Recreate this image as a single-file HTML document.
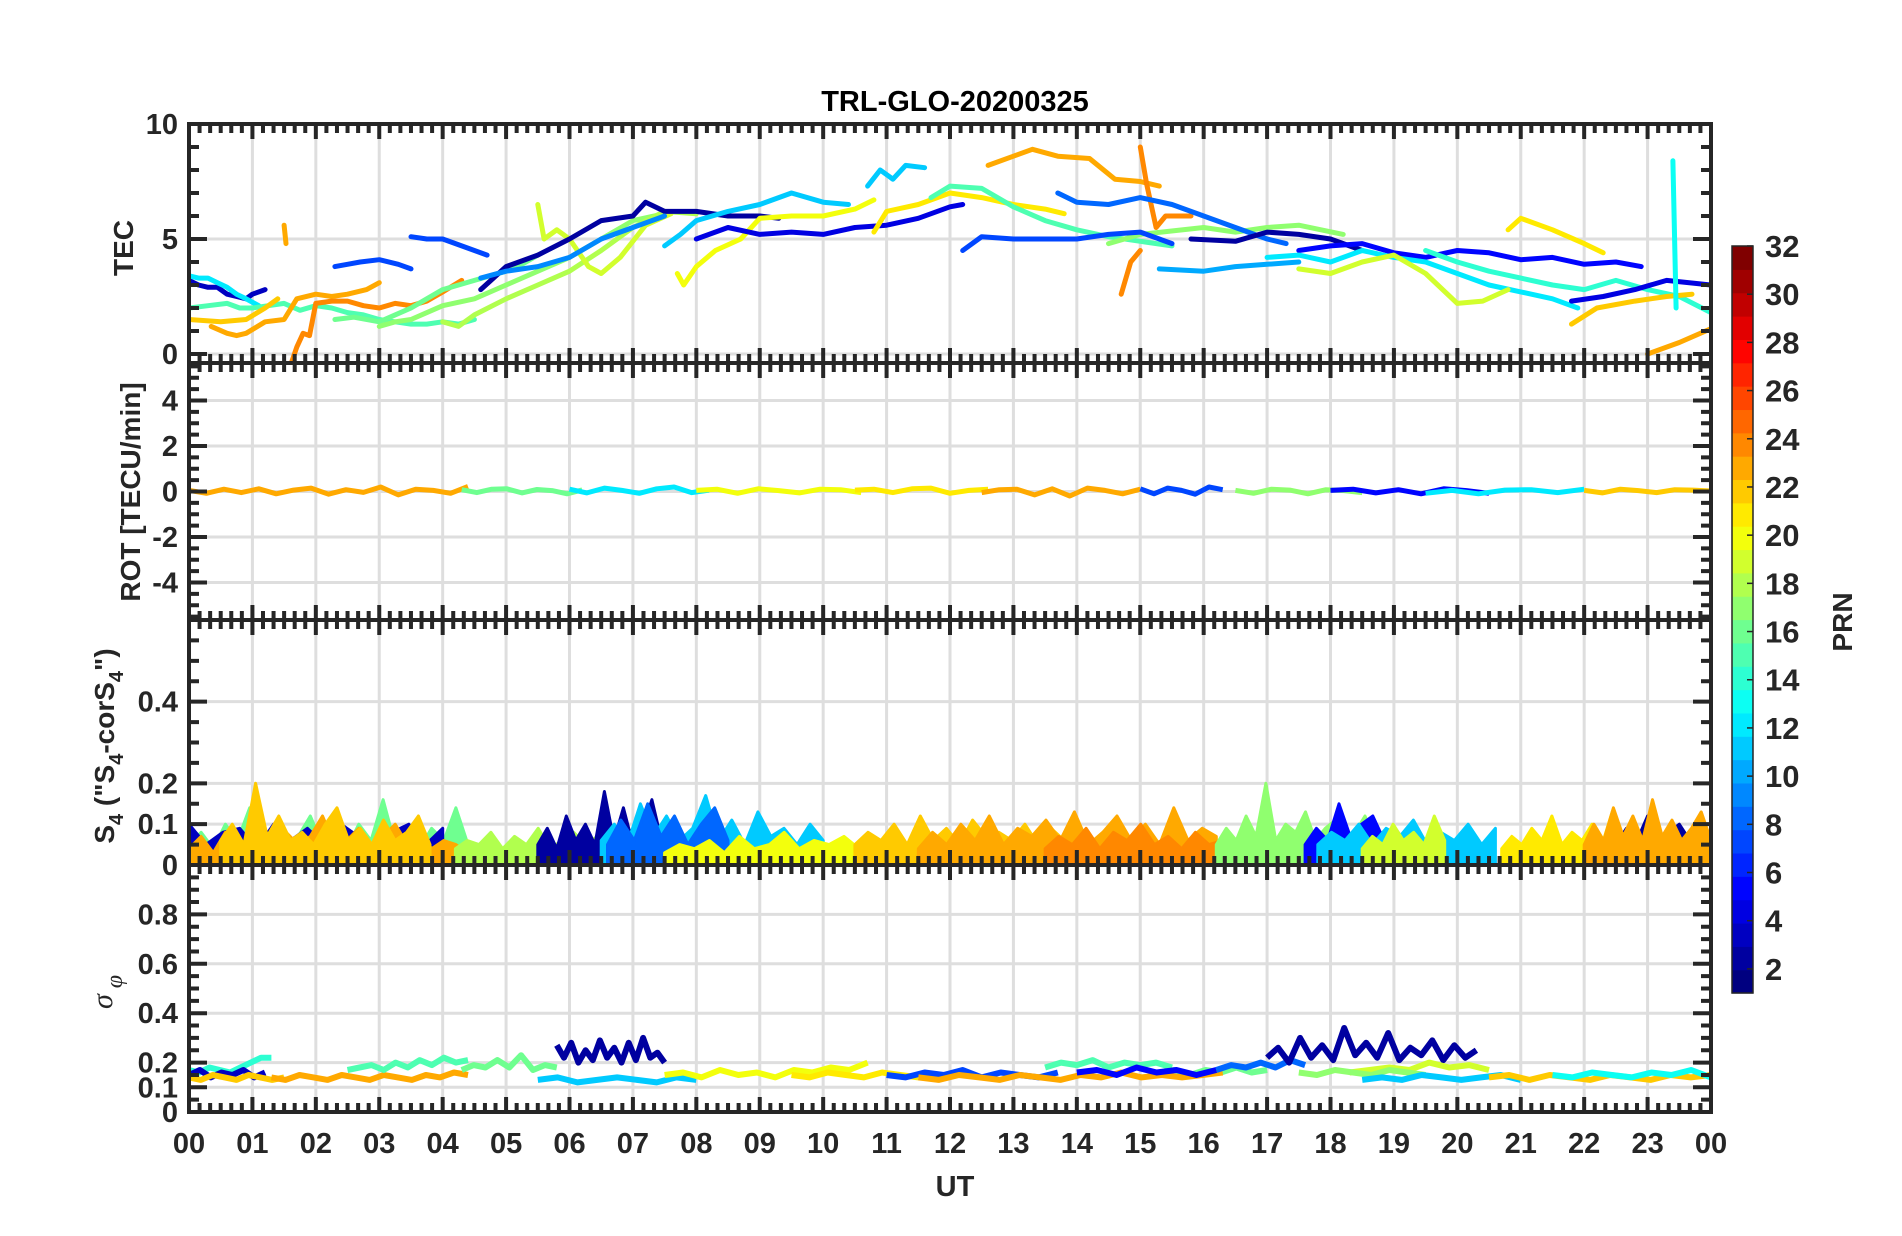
<!DOCTYPE html>
<html><head><meta charset="utf-8"><title>TRL-GLO-20200325</title>
<style>
html,body{margin:0;padding:0;background:#fff;}
svg{display:block;font-family:"Liberation Sans Narrow","Liberation Sans",sans-serif;}
</style></head>
<body>
<svg id="chart" width="1902" height="1236" viewBox="0 0 1902 1236" xmlns="http://www.w3.org/2000/svg">
<rect x="0" y="0" width="1902" height="1236" fill="#fff"/>
<g id="grid"></g>
<g id="series"></g>
<g id="axes"></g>
<text x="955" y="111" text-anchor="middle" font-size="29" font-weight="bold" fill="#000">TRL-GLO-20200325</text>
<text x="955" y="1196" text-anchor="middle" font-size="29" font-weight="bold" fill="#262626">UT</text>
<text transform="translate(133,248) rotate(-90)" text-anchor="middle" font-size="28" font-weight="bold" fill="#262626" font-family="Liberation Sans, sans-serif">TEC</text>
<text transform="translate(140,492) rotate(-90)" text-anchor="middle" font-size="28" font-weight="bold" fill="#262626" font-family="Liberation Sans, sans-serif">ROT [TECU/min]</text>
<text transform="translate(114,746) rotate(-90)" text-anchor="middle" font-size="28" font-weight="bold" fill="#262626" font-family="Liberation Sans, sans-serif">S<tspan font-size="20" dy="9">4</tspan><tspan dy="-9"> ("S</tspan><tspan font-size="20" dy="9">4</tspan><tspan dy="-9">-corS</tspan><tspan font-size="20" dy="9">4</tspan><tspan dy="-9">")</tspan></text>
<text transform="translate(112,992) rotate(-90)" text-anchor="middle" font-size="30" font-style="italic" fill="#262626" font-family="Liberation Serif, serif">σ<tspan font-size="24" dy="10"> φ</tspan></text>
<g id="cbar"></g>
<text transform="translate(1852,622) rotate(-90)" text-anchor="middle" font-size="28" font-weight="bold" fill="#262626" font-family="Liberation Sans, sans-serif">PRN</text>
</svg>
<script>
// ---------- DATA ----------
const hourTicks = ["00","01","02","03","04","05","06","07","08","09","10","11","12","13","14","15","16","17","18","19","20","21","22","23","00"];
const tecTicks = [0,5,10];
const rotTicks = [-4,-2,0,2,4];
const s4Ticks = [0,0.1,0.2,0.4];
const sigTicks = [0,0.1,0.2,0.4,0.6,0.8];
const cbarTicks = [2,4,6,8,10,12,14,16,18,20,22,24,26,28,30,32];

// TEC traces: PRN, then [hour, TEC] pairs
const tecPrn = [3,12,15,22,23,24,23,7,7,16,17,18,19,2,9,11,11,20,4,21,15,17,23,24,24,7,8,10,2,5,12,19,21,14,4,22,13,23];
const tecPts = [
 [[0,3.2],[0.15,3.0],[0.3,2.9],[0.45,2.9],[0.6,2.6],[0.75,2.5],[0.9,2.4],[1.0,2.6],[1.2,2.8]],
 [[0,3.4],[0.15,3.3],[0.3,3.3],[0.45,3.1],[0.6,2.9],[0.75,2.6],[0.9,2.4],[1.1,2.1]],
 [[0,2.0],[0.3,2.1],[0.6,2.2],[0.8,2.0],[1,2.0],[1.25,2.1],[1.5,2.2],[1.75,1.9],[2,2.1],[2.25,2.0],[2.5,1.8],[2.75,1.7],[3,1.5],[3.25,1.4],[3.5,1.3],[3.75,1.3],[4,1.4],[4.25,1.3],[4.5,1.5]],
 [[0,1.5],[0.5,1.4],[0.9,1.5],[1.2,2.0],[1.4,2.4]],
 [[0.35,1.2],[0.6,0.9],[0.75,0.8],[0.9,0.9],[1.2,1.4],[1.5,1.5],[1.7,2.4],[2.0,2.6],[2.25,2.5],[2.5,2.6],[2.8,2.8],[3.0,3.1]],
 [[1.6,-0.5],[1.7,0.3],[1.8,0.9],[1.9,0.8],[2.0,2.2],[2.25,2.3],[2.5,2.3],[2.75,2.1],[3.0,2.0],[3.25,2.2],[3.5,2.1],[3.75,2.3],[4.0,2.7],[4.3,3.2]],
 [[1.5,5.6],[1.53,4.8]],
 [[2.3,3.8],[2.5,3.9],[2.7,4.0],[3.0,4.1],[3.3,3.9],[3.5,3.7]],
 [[3.5,5.1],[3.75,5.0],[4.0,5.0],[4.3,4.7],[4.7,4.3]],
 [[2.3,1.5],[2.6,1.6],[3,1.4],[3.25,1.7],[3.5,2.0],[3.75,2.4],[4.0,2.8],[4.5,3.2],[5.0,3.6],[5.25,3.9],[5.5,4.3]],
 [[3,1.2],[3.25,1.4],[3.5,1.5],[4,2.1],[4.5,2.4],[5,3.0],[5.5,3.6],[6,4.2],[6.5,5.0],[7,5.8],[7.5,6.1]],
 [[4,1.4],[4.25,1.2],[4.5,1.7],[5,2.4],[5.5,3.0],[6,3.6],[6.5,4.5],[7,5.5],[7.5,6.2],[8,6.1]],
 [[5.5,6.5],[5.6,5.0],[5.8,5.4],[6.0,5.0],[6.3,3.8],[6.5,3.5],[6.8,4.2],[7.2,5.6],[7.6,6.1]],
 [[4.6,2.8],[5,3.8],[5.5,4.3],[6,5.0],[6.5,5.8],[7,6.0],[7.2,6.6],[7.5,6.2],[8.0,6.2],[8.5,6.0],[9,6.0],[9.3,5.9]],
 [[4.6,3.3],[5,3.6],[5.5,3.8],[6,4.2],[6.5,5.0],[7,5.5],[7.5,6.0]],
 [[7.5,4.7],[7.75,5.2],[8,5.8],[8.5,6.2],[9,6.5],[9.5,7.0],[10,6.6],[10.4,6.5]],
 [[10.7,7.3],[10.9,8.0],[11.1,7.6],[11.3,8.2],[11.6,8.1]],
 [[7.7,3.5],[7.8,3.0],[8,3.8],[8.3,4.5],[8.7,5.0],[9,5.9],[9.5,6.0],[10,6.0],[10.5,6.3],[10.8,6.7]],
 [[8,5.0],[8.5,5.5],[9,5.2],[9.5,5.3],[10,5.2],[10.5,5.5],[11,5.6],[11.5,5.9],[12,6.4],[12.2,6.5]],
 [[10.8,5.3],[11,6.2],[11.5,6.5],[12,7.0],[12.5,6.8],[13,6.5],[13.5,6.3],[13.8,6.1]],
 [[11.7,6.8],[12,7.3],[12.5,7.2],[13,6.4],[13.5,5.8],[14,5.4],[14.5,5.1],[15,4.9],[15.5,4.7]],
 [[14.5,4.8],[15,5.2],[16,5.5],[16.5,5.3],[17,5.5],[17.5,5.6],[18.2,5.2]],
 [[12.6,8.2],[13,8.6],[13.3,8.9],[13.7,8.6],[14.2,8.5],[14.6,7.6],[15,7.5],[15.3,7.3]],
 [[15,9.0],[15.1,7.4],[15.25,5.5],[15.4,6.0],[15.8,6.0]],
 [[14.7,2.6],[14.85,4.0],[15.0,4.5]],
 [[12.2,4.5],[12.5,5.1],[13,5.0],[13.5,5.0],[14,5.0],[14.5,5.2],[15,5.3],[15.5,4.8]],
 [[13.7,7.0],[14,6.6],[14.5,6.5],[15,6.8],[15.5,6.5],[16,6.0],[16.5,5.5],[17,5.0],[17.3,4.8]],
 [[15.3,3.7],[16,3.6],[16.5,3.8],[17,3.9],[17.5,4.0]],
 [[15.8,5.0],[16.5,4.9],[17,5.3],[17.5,5.2],[18,5.0],[18.5,4.5]],
 [[17.5,4.5],[18,4.7],[18.5,4.8],[19,4.4],[19.5,4.2],[20,4.5],[20.5,4.4],[21,4.1],[21.5,4.2],[22,3.9],[22.5,4.0],[22.9,3.8]],
 [[17,4.2],[17.5,4.3],[18,4.0],[18.5,4.5],[19,4.2],[19.5,4.0],[20,3.5],[20.5,3.0],[21,2.7],[21.5,2.4],[21.9,2.0]],
 [[17.5,3.7],[18,3.5],[18.5,4.0],[19,4.3],[19.5,3.5],[20,2.2],[20.4,2.3],[20.8,2.8]],
 [[20.8,5.4],[21,5.9],[21.5,5.4],[22,4.8],[22.3,4.4]],
 [[19.5,4.5],[20,4.0],[20.5,3.6],[21,3.3],[21.5,3.0],[22,2.8],[22.5,3.2],[23,2.8],[23.5,2.5],[24,1.8]],
 [[21.8,2.3],[22.3,2.5],[22.8,2.8],[23.3,3.2],[24,3.0]],
 [[21.8,1.3],[22.2,2.0],[22.8,2.3],[23.3,2.5],[23.7,2.6]],
 [[23.4,8.4],[23.45,2.0]],
 [[23.0,0.0],[23.5,0.5],[24,1.1]]
];

// ROT segments: PRN, start hour, end hour, values
const rotPrn = [23,16,12,20,21,23,7,17,5,12,22];
const rotStart = [0,4.3,6,8,10.5,12.5,15,16.5,18,19.5,22];
const rotEnd = [4.4,6.2,8.2,10.6,12.6,15,16.3,18.5,20.5,22,24];
const rotVals = [
 [0.05,-0.08,0.1,-0.05,0.12,-0.1,0.06,0.15,-0.12,0.08,-0.04,0.2,-0.15,0.1,0.05,-0.08,0.22],
 [0.08,-0.05,0.1,0.12,-0.06,0.09,0.04,-0.1,0.07],
 [0.1,-0.06,0.15,0.05,-0.08,0.12,0.2,-0.05,0.06],
 [0.05,0.1,-0.08,0.12,0.04,-0.06,0.1,0.08,-0.05],
 [0.06,0.1,-0.05,0.12,0.15,-0.08,0.05,0.1],
 [-0.05,0.08,0.1,-0.15,0.12,-0.2,0.15,0.05,-0.1,0.1],
 [0.12,-0.1,0.15,0.05,-0.12,0.2,0.08],
 [0.05,-0.08,0.1,0.06,-0.1,0.08,0.04,-0.05],
 [0.05,0.1,-0.06,0.08,-0.1,0.12,0.04,-0.08],
 [-0.08,0.05,-0.1,0.06,0.08,-0.05,0.1],
 [0.05,-0.06,0.1,0.04,-0.05,0.08,0.06,0.02]
];

// S4 segments: PRN, start, end, values
const s4Prn = [16,3,23,22,18,2,11,8,20,22,23,24,17,5,11,19,21,2,23];
const s4Start = [0,0,0,0.5,4.2,5.5,6.5,6.6,7.5,10.5,11.5,13.5,16.2,17.6,17.8,18.5,20.7,22.5,22];
const s4End = [4.4,4.0,4.4,3.8,7.0,7.6,10.0,8.5,10.8,13.8,16.2,16.3,18.7,19.2,20.6,19.8,22.6,24,24];
const s4Vals = [
 [0.05,0.08,0.04,0.1,0.06,0.14,0.05,0.09,0.04,0.07,0.12,0.05,0.08,0.04,0.1,0.06,0.16,0.05,0.07,0.04,0.09,0.06,0.14,0.05],
 [0.1,0.05,0.08,0.09,0.04,0.1,0.06,0.09,0.05,0.1,0.07,0.04,0.08,0.1,0.05,0.09],
 [0.04,0.07,0.03,0.08,0.05,0.06,0.1,0.04,0.08,0.05,0.07,0.12,0.05,0.06,0.09,0.04,0.07,0.1,0.05,0.08,0.04,0.06,0.05,0.03],
 [0.06,0.1,0.05,0.2,0.07,0.12,0.06,0.08,0.05,0.1,0.14,0.06,0.09,0.05,0.11,0.06,0.08,0.12,0.05],
 [0.04,0.06,0.05,0.08,0.04,0.07,0.05,0.09,0.04,0.06,0.08,0.05,0.07,0.06,0.09,0.04],
 [0.05,0.09,0.04,0.12,0.06,0.1,0.05,0.18,0.06,0.14,0.05,0.09,0.16,0.06,0.1],
 [0.06,0.1,0.05,0.15,0.07,0.12,0.06,0.09,0.17,0.06,0.11,0.05,0.13,0.07,0.09,0.05,0.1,0.06],
 [0.05,0.11,0.06,0.15,0.07,0.12,0.05,0.1,0.14,0.06],
 [0.03,0.05,0.04,0.06,0.03,0.07,0.04,0.05,0.08,0.04,0.06,0.05,0.07,0.04,0.06],
 [0.05,0.08,0.06,0.1,0.05,0.12,0.06,0.09,0.05,0.11,0.07,0.08,0.06,0.1,0.05,0.09,0.06],
 [0.04,0.08,0.05,0.1,0.06,0.12,0.05,0.09,0.07,0.11,0.06,0.13,0.05,0.08,0.12,0.06,0.1,0.05,0.14,0.06,0.09,0.07],
 [0.04,0.07,0.05,0.09,0.04,0.08,0.06,0.1,0.05,0.07,0.04,0.08,0.05,0.06],
 [0.05,0.09,0.06,0.12,0.07,0.2,0.06,0.1,0.08,0.13,0.06,0.09,0.11,0.06,0.08,0.12,0.06],
 [0.05,0.09,0.06,0.15,0.07,0.1,0.12,0.06,0.09,0.05],
 [0.05,0.08,0.06,0.1,0.05,0.09,0.07,0.11,0.05,0.08,0.06,0.1,0.05,0.09],
 [0.04,0.07,0.05,0.1,0.06,0.08,0.05,0.12,0.06],
 [0.04,0.07,0.05,0.09,0.06,0.12,0.05,0.08,0.06,0.1,0.05,0.13,0.06],
 [0.05,0.09,0.06,0.12,0.05,0.08,0.1,0.06,0.12,0.05],
 [0.05,0.1,0.06,0.14,0.07,0.12,0.06,0.16,0.07,0.11,0.06,0.09,0.13,0.06]
];

// Sigma-phi segments: PRN, start, end, values
const sgPrn = [14,3,22,23,15,16,2,11,20,21,7,15,16,23,5,8,2,19,17,11,22,13];
const sgStart = [0,0,0,1.3,2.5,4.3,5.8,5.5,7.5,9.5,11,13.5,15.3,11.5,14,16.2,17.0,18.3,17.5,18.5,20.5,21.5];
const sgEnd = [1.3,1.2,1.5,4.4,4.4,5.8,7.5,8,10.7,11.5,13.7,15.5,17,16.3,16.2,17.6,20.3,20.5,19.5,21,24,24];
const sgVals = [
 [0.17,0.16,0.18,0.17,0.16,0.18,0.2,0.22,0.22],
 [0.15,0.17,0.14,0.16,0.15,0.17,0.14,0.16],
 [0.14,0.13,0.15,0.14,0.13,0.15,0.14,0.13,0.14],
 [0.14,0.13,0.15,0.14,0.13,0.15,0.14,0.13,0.15,0.14,0.13,0.15,0.14,0.16,0.15],
 [0.17,0.18,0.19,0.17,0.2,0.18,0.21,0.19,0.22,0.2,0.21],
 [0.17,0.19,0.18,0.21,0.18,0.23,0.17,0.19,0.18],
 [0.27,0.22,0.28,0.2,0.25,0.21,0.29,0.22,0.26,0.2,0.28,0.21,0.3,0.22,0.24,0.2],
 [0.13,0.14,0.12,0.13,0.14,0.13,0.12,0.14,0.13],
 [0.15,0.16,0.14,0.17,0.15,0.16,0.14,0.17,0.16,0.18,0.17,0.2],
 [0.15,0.14,0.16,0.15,0.14,0.16,0.15,0.14],
 [0.15,0.14,0.16,0.15,0.17,0.14,0.16,0.15,0.14,0.16],
 [0.18,0.2,0.19,0.21,0.18,0.2,0.19,0.2,0.18],
 [0.16,0.17,0.15,0.17,0.16,0.18,0.16,0.17],
 [0.14,0.13,0.15,0.14,0.13,0.15,0.14,0.13,0.15,0.14,0.16,0.14,0.15,0.14,0.15,0.16],
 [0.16,0.17,0.15,0.18,0.16,0.17,0.15,0.17],
 [0.17,0.19,0.18,0.2,0.18,0.21,0.19],
 [0.22,0.26,0.2,0.3,0.22,0.27,0.21,0.34,0.23,0.28,0.22,0.32,0.21,0.26,0.23,0.29,0.21,0.27,0.22,0.25],
 [0.16,0.17,0.18,0.17,0.2,0.18,0.19,0.17],
 [0.16,0.15,0.17,0.16,0.15,0.17,0.16,0.15],
 [0.13,0.14,0.13,0.15,0.14,0.13,0.14,0.15,0.13],
 [0.14,0.15,0.13,0.15,0.14,0.13,0.15,0.14,0.13,0.15,0.14,0.15],
 [0.15,0.14,0.16,0.15,0.14,0.16,0.15,0.17,0.14]
];

// ---------- AXES ----------
const X0 = 189, X1 = 1711;
function xS(h){ return X0 + h*(X1-X0)/24; }
const P = {
 tec:{top:124,bot:363,min:-0.39,max:10.0},
 rot:{top:363,bot:620,min:-5.65,max:5.65},
 s4:{top:620,bot:865,min:0,max:0.6},
 sig:{top:865,bot:1112,min:0,max:1.0}
};
function yOf(p,v){ return p.bot - (v-p.min)/(p.max-p.min)*(p.bot-p.top); }

function jet(prn){
 const t = (prn-1)/31;
 const f = v => Math.max(0,Math.min(1,v));
 const r = f(1.5-Math.abs(4*t-3)), g = f(1.5-Math.abs(4*t-2)), b = f(1.5-Math.abs(4*t-1));
 return `rgb(${Math.round(r*255)},${Math.round(g*255)},${Math.round(b*255)})`;
}
const NS = "http://www.w3.org/2000/svg";
function mk(tag, attrs, parent){
 const e = document.createElementNS(NS, tag);
 for (const k in attrs) e.setAttribute(k, attrs[k]);
 parent.appendChild(e); return e;
}
const gGrid = document.getElementById('grid');
const gSer = document.getElementById('series');
const gAx = document.getElementById('axes');
const AX = "#262626";

function panel(name, p, majors, minorStep, labelFmt){
 for (let h=1; h<24; h++){
  const l = mk('line',{x1:xS(h),x2:xS(h),y1:p.top,y2:p.bot,stroke:'#dedede','stroke-width':3},gGrid);
  
  
 }
 majors.forEach(v=>{
  const y = yOf(p,v);
  const l = mk('line',{x1:X0,x2:X1,y1:y,y2:y,stroke:'#dedede','stroke-width':3},gGrid);
  
  
  const t = mk('text',{x:178,y:y+10,'text-anchor':'end','font-size':29,'font-weight':'bold',fill:AX},gAx);
  t.textContent = labelFmt(v);
  
  
 });
 let d = '';
 for (let m=0; m<=24*6; m++){
  const x = xS(m/6), L = (m%6===0)?15:9;
  d += `M${x},${p.bot}v${-L}M${x},${p.top}v${L}`;
 }
 const start = Math.ceil(p.min/minorStep-1e-9);
 for (let k=start; k*minorStep<=p.max+1e-9; k++){
  const v = k*minorStep, y = yOf(p,v);
  const isMaj = majors.some(m=>Math.abs(m-v)<1e-9);
  const L = isMaj?18:10;
  d += `M${X0},${y}h${L}M${X1},${y}h${-L}`;
 }
 const tk = mk('path',{d:d,stroke:AX,'stroke-width':4,fill:'none'},gAx);
 
 
 const box = mk('rect',{x:X0,y:p.top,width:X1-X0,height:p.bot-p.top,fill:'none',stroke:AX,'stroke-width':4},gAx);
 
 
}
panel('tec', P.tec, tecTicks, 1, v=>String(v));
panel('rot', P.rot, rotTicks, 0.5, v=>String(v));
panel('s4', P.s4, s4Ticks, 0.05, v=>v===0?'0':v.toFixed(1));
panel('sigma', P.sig, sigTicks, 0.05, v=>v===0?'0':v.toFixed(1));

hourTicks.forEach((lab,i)=>{
 const t = mk('text',{x:xS(i),y:1153,'text-anchor':'middle','font-size':29,'font-weight':'bold',fill:AX},gAx);
 t.textContent = lab;
 
 
});

const defs = mk('defs',{},document.getElementById('chart'));
Object.keys(P).forEach(k=>{
 const c = mk('clipPath',{id:'clip-'+k},defs);
 mk('rect',{x:X0,y:P[k].top,width:X1-X0,height:P[k].bot-P[k].top},c);
});

tecPts.forEach((pts,i)=>{
 const d = pts.map((q,j)=>(j?'L':'M')+xS(q[0]).toFixed(1)+','+yOf(P.tec,q[1]).toFixed(1)).join('');
 const l = mk('path',{d:d,stroke:jet(tecPrn[i]),'stroke-width':5,fill:'none','stroke-linejoin':'round','stroke-linecap':'round','clip-path':'url(#clip-tec)'},gSer);
 
 
});

function segLine(panelKey, prn, s, e, vals, w){
 const p = P[panelKey], n = vals.length;
 const d = vals.map((v,j)=>(j?'L':'M')+xS(s+(e-s)*j/(n-1)).toFixed(1)+','+yOf(p,v).toFixed(1)).join('');
 return mk('path',{d:d,stroke:jet(prn),'stroke-width':w,fill:'none','stroke-linejoin':'round','clip-path':'url(#clip-'+panelKey+')'},gSer);
}
function segFill(panelKey, prn, s, e, vals){
 const p = P[panelKey], n = vals.length;
 let d = `M${xS(s).toFixed(1)},${p.bot}`;
 vals.forEach((v,j)=>{ d += `L${xS(s+(e-s)*j/(n-1)).toFixed(1)},${yOf(p,v).toFixed(1)}`; });
 d += `L${xS(e).toFixed(1)},${p.bot}Z`;
 return mk('path',{d:d,fill:jet(prn),stroke:jet(prn),'stroke-width':3,'stroke-linejoin':'round','clip-path':'url(#clip-'+panelKey+')'},gSer);
}
rotVals.forEach((vals,i)=>{
 const l = segLine('rot',rotPrn[i],rotStart[i],rotEnd[i],vals,5);
 
 
});
s4Vals.forEach((vals,i)=>{
 const l = segFill('s4',s4Prn[i],s4Start[i],s4End[i],vals);
 
 
});
sgVals.forEach((vals,i)=>{
 const l = segLine('sig',sgPrn[i],sgStart[i],sgEnd[i],vals,6);
 
 
});

const gC = document.getElementById('cbar');
const CT = 246, CB = 993, CX = 1732, CW = 21;
function yC(v){ return CB - (v-1)/31*(CB-CT); }
for (let k=1;k<=32;k++){
 const y0 = CB-(k-1)*(CB-CT)/32, y1 = CB-k*(CB-CT)/32;
 const r = mk('rect',{x:CX,y:y1,width:CW,height:y0-y1+0.6,fill:jet(k)},gC);
 
 
}
const cbBox = mk('rect',{x:CX,y:CT,width:CW,height:CB-CT,fill:'none',stroke:AX,'stroke-width':1.5},gC);


cbarTicks.forEach(v=>{
 const y = yC(v);
 const tl = mk('line',{x1:CX+CW-6,x2:CX+CW,y1:y,y2:y,stroke:AX,'stroke-width':1.5},gC);
 
 
 const t = mk('text',{x:1765,y:y+11,'font-size':31,'font-weight':'bold',fill:AX},gC);
 t.textContent = String(v);
 
 
});
</script>
</body></html>
